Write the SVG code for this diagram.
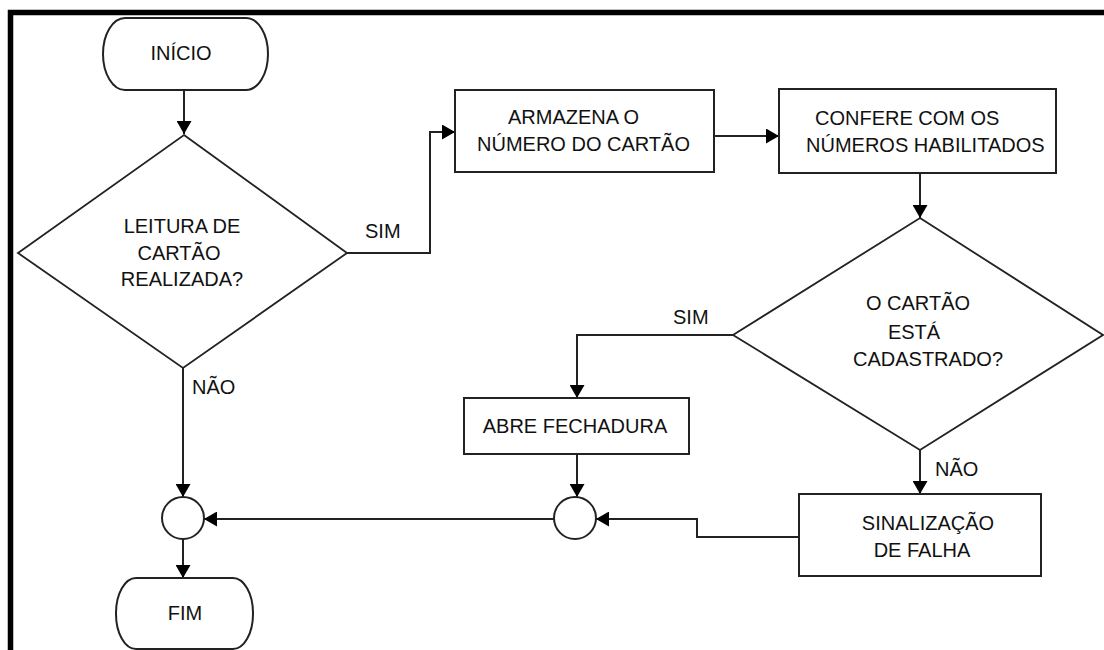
<svg xmlns="http://www.w3.org/2000/svg" width="1104" height="650" viewBox="0 0 1104 650">
<defs>
<marker id="arr" markerUnits="userSpaceOnUse" markerWidth="14" markerHeight="15" refX="13" refY="7.5" orient="auto">
<path d="M0,0 L13,7.5 L0,15 z" fill="#000"/>
</marker>
<style>
.t{font-family:"Liberation Sans",Arial,sans-serif;font-size:20px;fill:#111;}
.m{text-anchor:middle;}
.s{fill:#fff;stroke:#222;stroke-width:2;}
.d{fill:#fff;stroke:#222;stroke-width:1.8;}
.c{fill:none;stroke:#222;stroke-width:2;}
</style>
</defs>
<rect width="1104" height="650" fill="#fff"/>
<g id="frame">
<path d="M10.5,650 V12.5 H1104" fill="none" stroke="#000" stroke-width="5.5"/>
</g>
<g id="connectors">
<path class="c" d="M184,90 V134" marker-end="url(#arr)"/>
<path class="c" d="M347,253 H430 V132 H455" marker-end="url(#arr)"/>
<path class="c" d="M714,136 H779" marker-end="url(#arr)"/>
<path class="c" d="M920,173 V218" marker-end="url(#arr)"/>
<path class="c" d="M733,335 H577 V398" marker-end="url(#arr)"/>
<path class="c" d="M920,450 V494" marker-end="url(#arr)"/>
<path class="c" d="M183,368 V497" marker-end="url(#arr)"/>
<path class="c" d="M577,454 V497" marker-end="url(#arr)"/>
<path class="c" d="M799,537 H697 V519 H596" marker-end="url(#arr)"/>
<path class="c" d="M554,519 H204" marker-end="url(#arr)"/>
<path class="c" d="M183,539 V578" marker-end="url(#arr)"/>
<text class="t" x="365" y="238">SIM</text>
<text class="t" x="192" y="394">NÃO</text>
<text class="t" x="673" y="324">SIM</text>
<text class="t" x="935" y="476">NÃO</text>
</g>
<g id="inicio">
<rect class="s" x="103" y="18" width="165" height="72" rx="22" ry="36"/>
<text class="t m" x="181" y="60">INÍCIO</text>
</g>
<g id="leitura">
<polygon class="d" points="184,135 347,253 183,368 18,253"/>
<text class="t m" x="182" y="233">LEITURA DE</text>
<text class="t m" x="179" y="260">CARTÃO</text>
<text class="t m" x="182" y="286">REALIZADA?</text>
</g>
<g id="armazena">
<rect class="s" x="455" y="90" width="259" height="82"/>
<text class="t" x="508" y="124">ARMAZENA O</text>
<text class="t" x="477" y="151">NÚMERO DO CARTÃO</text>
</g>
<g id="confere">
<rect class="s" x="779" y="89" width="277" height="84"/>
<text class="t" x="815" y="125">CONFERE COM OS</text>
<text class="t" x="806" y="152">NÚMEROS HABILITADOS</text>
</g>
<g id="cadastrado">
<polygon class="d" points="920,218 1103,335 920,450 733,335"/>
<text class="t m" x="918" y="310">O CARTÃO</text>
<text class="t m" x="914" y="339">ESTÁ</text>
<text class="t m" x="928" y="366">CADASTRADO?</text>
</g>
<g id="abre">
<rect class="s" x="464" y="398" width="225" height="56"/>
<text class="t m" x="575" y="433">ABRE FECHADURA</text>
</g>
<g id="sinalizacao">
<rect class="s" x="799" y="494" width="242" height="82"/>
<text class="t m" x="928" y="530">SINALIZAÇÃO</text>
<text class="t m" x="922" y="557">DE FALHA</text>
</g>
<g id="juncao1">
<circle class="s" cx="183" cy="518" r="21"/>
</g>
<g id="juncao2">
<circle class="s" cx="575" cy="518" r="21"/>
</g>
<g id="fim">
<rect class="s" x="116" y="578" width="137" height="71" rx="20" ry="35"/>
<text class="t m" x="185" y="620">FIM</text>
</g>
</svg>
